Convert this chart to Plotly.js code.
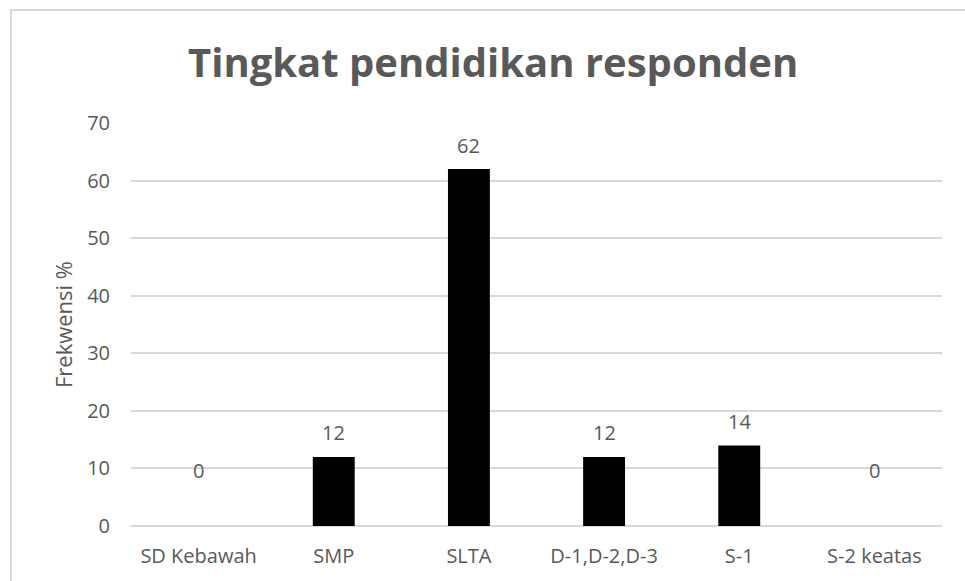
<!DOCTYPE html>
<html>
<head>
<meta charset="utf-8">
<script src="https://cdn.plot.ly/plotly-3.0.1.min.js"></script>
<style>
html,body{margin:0;padding:0;background:#fff;}
#wrap{position:relative;width:965px;height:581px;overflow:hidden;}
#chart{width:965px;height:581px;}
#frame{position:absolute;left:10px;top:9px;width:960px;height:580px;border-left:2px solid #d9d9d9;border-top:2px solid #d9d9d9;pointer-events:none;}
</style>
</head>
<body>
<div id="wrap"><div id="chart"></div><div id="frame"></div></div>
<script>
const categories = ["SD Kebawah", "SMP", "SLTA", "D-1,D-2,D-3", "S-1", "S-2 keatas"];
const values = [0, 12, 62, 12, 14, 0];
const yTicks = [0, 10, 20, 30, 40, 50, 60, 70];

const font = "Open Sans, sans-serif";
const grey = "#595959";

const annotations = categories.map((c, i) => ({
  x: c, y: values[i], xref: "x", yref: "y",
  text: String(values[i]), showarrow: false,
  yanchor: "middle", yshift: values[i] === 0 ? 56 : 24,
  font: {family: font, size: 20, color: grey}
}));

Plotly.newPlot("chart", [{
  type: "bar",
  x: categories,
  y: values,
  marker: {color: "#000000"},
  width: 0.31,
  hoverinfo: "x+y"
}], {
  width: 965, height: 581,
  margin: {l: 131, r: 23, t: 123, b: 55},
  paper_bgcolor: "#ffffff", plot_bgcolor: "#ffffff",
  title: {
    text: "<b>Tingkat pendidikan responden</b>",
    x: 0.511, xanchor: "center", y: 0.892, yanchor: "middle",
    font: {family: font, size: 40, color: grey}
  },
  xaxis: {
    type: "category",
    showgrid: false, showline: false, ticks: "",
    tickfont: {family: font, size: 20, color: grey},
    ticklabelstandoff: 16
  },
  yaxis: {
    range: [0, 70], tickvals: yTicks, ticktext: yTicks.map(String),
    showgrid: true, gridcolor: "#d9d9d9", gridwidth: 2,
    zeroline: true, zerolinecolor: "#d9d9d9", zerolinewidth: 2,
    showline: false, ticks: "",
    tickfont: {family: font, size: 20, color: grey},
    ticklabelstandoff: 20,
    title: {text: "Frekwensi %", font: {family: font, size: 22, color: grey}, standoff: 8}
  },
  annotations: annotations,
  showlegend: false
}, {displayModeBar: false, staticPlot: true});
</script>
</body>
</html>
